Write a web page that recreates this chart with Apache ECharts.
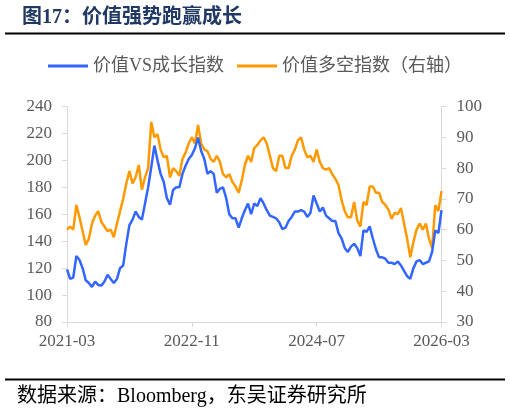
<!DOCTYPE html>
<html>
<head>
<meta charset="utf-8">
<script src="https://cdn.jsdelivr.net/npm/echarts@6/dist/echarts.min.js"></script>
<style>
html,body{margin:0;padding:0;background:#fff;}
#c{width:510px;height:414px;}
</style>
</head>
<body>
<div id="c"></div>
<script>
// Tick labels shown on the x axis
const xTickLabels = ['2021-03', '2022-11', '2024-07', '2026-03'];
// Semi-monthly categories from 2021-03 to 2026-03
const categories = [];
for (let k = 0; k <= 120; k++) {
  const m = 2 + Math.floor(k / 2);
  const y = 2021 + Math.floor(m / 12);
  const mm = (m % 12) + 1;
  categories.push(y + '-' + (mm < 10 ? '0' + mm : mm) + '-' + (k % 2 ? '16' : '01'));
}
// 价值VS成长指数 (left axis)
const valueVsGrowth = [
  119,112,113,129,126,120,111,109,106,110,
  107.5,107,110,115,112,109,112,120,122,138,
  152,156,162,158,156,168,180,195,211,200,
  190,184,172,167,178,180,180,190,196,201,
  204,209,217,207,201,190,192,190,176,179,
  180,172,160,157,157,150,157,163,168,160,
  168,166,172,168,163,159,158,157,154,149,
  150,155,158,162,162,163,162,158,161,174,
  168,162,165,159,157,155,155,146,142,135,
  132,136,138,135,129,148,147,151,142,134,
  128,128,127,124,124,123,125,122,118,114,
  112,120,125,126,123,124,125,132,148,146,
  163
];
// 价值多空指数 (right axis)
const valueLongShort = [
  60,61,60,68,64,59.5,55,57,62,64.5,
  66,62.5,61,59.5,60,57.5,62,66,70,75,
  79,75,77,81,73,77,80,95,90,91,
  86,83.5,84,77,80,79,77.5,83,85,88,
  90,88,94,88,86,85.5,83,82,84,82,
  78,77,78,75.5,74,72,76,81,84,82,
  86.5,87.5,89,90,88,84,80,79,84,84,
  80,80,84,86,89,90,86,83.5,84,82,
  86,82,80,79.5,80,78,76.5,74.5,69.5,66,
  64,64,69,63,61,69,68,74,74,72,
  72,69,68,66.5,63.5,65.5,65,67,62,57,
  51,56,60,62,60,62,57,54,68,66,
  72.5
];

const serif = '"Liberation Serif", "Times New Roman", "Noto Sans CJK SC", serif';
const chart = echarts.init(document.getElementById('c'), null, {renderer: 'canvas'});
const axisLineStyle = {color: '#D9D9D9', width: 1};
chart.setOption({
  animation: false,
  backgroundColor: '#fff',
  title: {
    text: '图17：价值强势跑赢成长',
    left: 17, top: 3,
    textStyle: {color: '#1F3864', fontSize: 20, fontWeight: 'bold', fontFamily: serif}
  },
  legend: {
    top: 52, left: 'center',
    itemWidth: 40, itemHeight: 3, itemGap: 13,
    icon: 'rect',
    textStyle: {color: '#595959', fontSize: 18, fontFamily: serif},
    data: ['价值VS成长指数', '价值多空指数（右轴）']
  },
  grid: {left: 67, right: 68.5, top: 106.5, bottom: 92, containLabel: false},
  xAxis: {
    type: 'category',
    data: categories,
    boundaryGap: false,
    axisLine: {lineStyle: axisLineStyle},
    axisTick: {show: true, interval: 39, length: 5, lineStyle: axisLineStyle},
    axisLabel: {
      interval: 39, margin: 11, color: '#595959', fontSize: 17, fontFamily: serif,
      formatter: v => v.slice(0, 7)
    },
    splitLine: {show: false}
  },
  yAxis: [
    {
      type: 'value', min: 80, max: 240, interval: 20, position: 'left',
      axisLine: {show: true, lineStyle: axisLineStyle},
      axisTick: {show: true, length: 5, lineStyle: axisLineStyle},
      axisLabel: {margin: 15, color: '#595959', fontSize: 17, fontFamily: serif},
      splitLine: {show: false}
    },
    {
      type: 'value', min: 30, max: 100, interval: 10, position: 'right',
      axisLine: {show: true, lineStyle: axisLineStyle},
      axisTick: {show: true, length: 5, lineStyle: axisLineStyle},
      axisLabel: {margin: 15, color: '#595959', fontSize: 17, fontFamily: serif},
      splitLine: {show: false}
    }
  ],
  series: [
    {
      name: '价值VS成长指数', type: 'line', yAxisIndex: 0,
      data: valueVsGrowth, showSymbol: false, symbol: 'none',
      lineStyle: {color: '#3366FF', width: 2.5}, itemStyle: {color: '#3366FF'}, z: 3
    },
    {
      name: '价值多空指数（右轴）', type: 'line', yAxisIndex: 1,
      data: valueLongShort, showSymbol: false, symbol: 'none',
      lineStyle: {color: '#FF9900', width: 2.5}, itemStyle: {color: '#FF9900'}, z: 2
    }
  ],
  graphic: [
    {type: 'line', shape: {x1: 5, y1: 33.5, x2: 505, y2: 33.5}, style: {stroke: '#000', lineWidth: 2}},
    {type: 'line', shape: {x1: 5, y1: 379.5, x2: 505, y2: 379.5}, style: {stroke: '#000', lineWidth: 2}},
    {
      type: 'text', left: 17, top: 387,
      style: {text: '数据来源：Bloomberg，东吴证券研究所', fill: '#000', fontSize: 20, fontFamily: serif}
    }
  ]
});
</script>
</body>
</html>
